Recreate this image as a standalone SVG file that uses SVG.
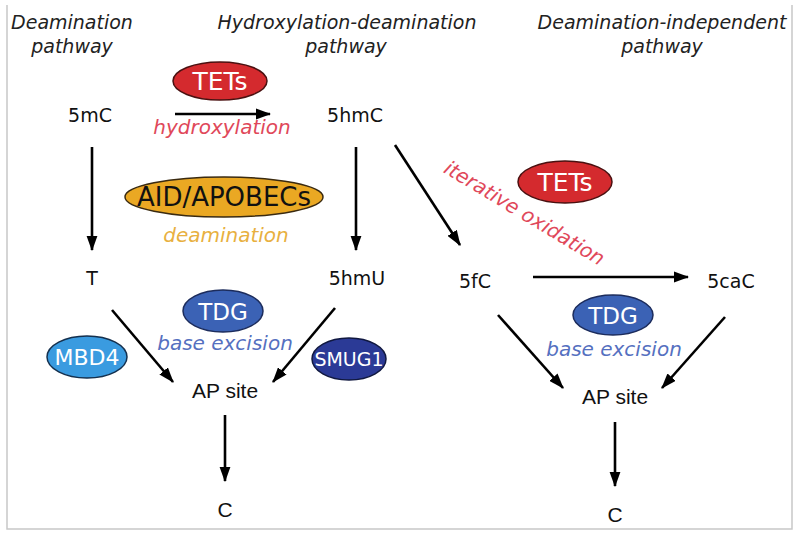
<svg xmlns="http://www.w3.org/2000/svg" width="800" height="538" viewBox="0 0 800 538">
<defs>
<marker id="ah" viewBox="0 0 14 10" refX="13" refY="5" markerWidth="6" markerHeight="4.3" markerUnits="strokeWidth" orient="auto">
<path d="M0,0 L14,5 L0,10 z" fill="#000"/>
</marker>
<style>
text{font-family:"DejaVu Sans","Liberation Sans",sans-serif;text-anchor:middle}
.title{font-size:19px;font-style:italic;fill:#222}
.lbl{font-size:19px;fill:#111}
.ap{font-family:"Liberation Sans","DejaVu Sans",sans-serif;font-size:21px;fill:#111}
.conn line{stroke:#000;stroke-width:2.6;marker-end:url(#ah)}
.red{fill:#d42a2e;stroke:#4a1010;stroke-width:1.5}
.org{fill:#eaa823;stroke:#3a2a10;stroke-width:1.5}
.tdg{fill:#3b62b5;stroke:#1c2c5c;stroke-width:1.5}
.mbd{fill:#3a9be0;stroke:#14304e;stroke-width:1.5}
.smug{fill:#2b3a96;stroke:#101840;stroke-width:1.5}
.wt{fill:#fff}
.it{font-style:italic;font-size:20px}
</style>
</defs>
<rect width="800" height="538" fill="#fff"/>
<polyline points="7,5 7,529 792,529 792,5" fill="none" stroke="#c8c8c8" stroke-width="1.5"/>

<g id="titles">
<text class="title" x="72" y="29">Deamination</text>
<text class="title" x="72" y="53">pathway</text>
<text class="title" x="347" y="29">Hydroxylation-deamination</text>
<text class="title" x="346" y="53">pathway</text>
<text class="title" x="662" y="29">Deamination-independent</text>
<text class="title" x="662" y="53">pathway</text>
</g>

<g class="conn" id="connectors">
<line x1="175" y1="114" x2="270" y2="114"/>
<line x1="92" y1="147" x2="92" y2="250"/>
<line x1="356" y1="147" x2="356" y2="250"/>
<line x1="395" y1="145" x2="460" y2="245"/>
<line x1="533" y1="277" x2="688" y2="277"/>
<line x1="112" y1="310" x2="173" y2="382"/>
<line x1="335" y1="308" x2="273" y2="382"/>
<line x1="225" y1="415" x2="225" y2="481"/>
<line x1="498" y1="315" x2="563" y2="388"/>
<line x1="725" y1="317" x2="662" y2="388"/>
<line x1="615" y1="422" x2="615" y2="486"/>
</g>

<g id="n5mC"><text class="lbl" x="90" y="122">5mC</text></g>
<g id="n5hmC"><text class="lbl" x="355" y="122">5hmC</text></g>
<g id="nT"><text class="lbl" x="92" y="285">T</text></g>
<g id="n5hmU"><text class="lbl" x="357" y="285">5hmU</text></g>
<g id="n5fC"><text class="lbl" x="475" y="288">5fC</text></g>
<g id="n5caC"><text class="lbl" x="731" y="288">5caC</text></g>
<g id="nAP1"><text class="ap" x="225" y="398">AP site</text></g>
<g id="nAP2"><text class="ap" x="615" y="404">AP site</text></g>
<g id="nC1"><text class="ap" x="225" y="517">C</text></g>
<g id="nC2"><text class="ap" x="615" y="522">C</text></g>

<g id="tets1">
<ellipse class="red" cx="220" cy="81" rx="47" ry="19"/>
<text class="wt" x="220" y="90" font-size="25">TETs</text>
<text x="222" y="134" class="it" fill="#e0485a">hydroxylation</text>
</g>

<g id="aid">
<ellipse class="org" cx="224" cy="197" rx="99" ry="20"/>
<text x="224" y="206" font-size="26" fill="#111">AID/APOBECs</text>
<text x="226" y="242" class="it" font-size="19" fill="#e8b040">deamination</text>
</g>

<g id="tets2">
<ellipse class="red" cx="565" cy="182" rx="47" ry="21"/>
<text class="wt" x="565" y="191" font-size="25">TETs</text>
<text class="it" fill="#e0485a" transform="translate(521,219) rotate(31)">iterative oxidation</text>
</g>

<g id="tdg1">
<ellipse class="tdg" cx="223" cy="311" rx="40" ry="21"/>
<text class="wt" x="223" y="320" font-size="23">TDG</text>
<text x="225" y="350" class="it" fill="#5570c0">base excision</text>
</g>

<g id="tdg2">
<ellipse class="tdg" cx="613" cy="315" rx="40" ry="20"/>
<text class="wt" x="613" y="324" font-size="23">TDG</text>
<text x="614" y="356" class="it" fill="#5570c0">base excision</text>
</g>

<g id="mbd4">
<ellipse class="mbd" cx="87" cy="357" rx="40" ry="21"/>
<text class="wt" x="87" y="365" font-size="22">MBD4</text>
</g>

<g id="smug1">
<ellipse class="smug" cx="349" cy="359" rx="37" ry="21"/>
<text class="wt" x="349" y="366" font-size="19">SMUG1</text>
</g>
</svg>
